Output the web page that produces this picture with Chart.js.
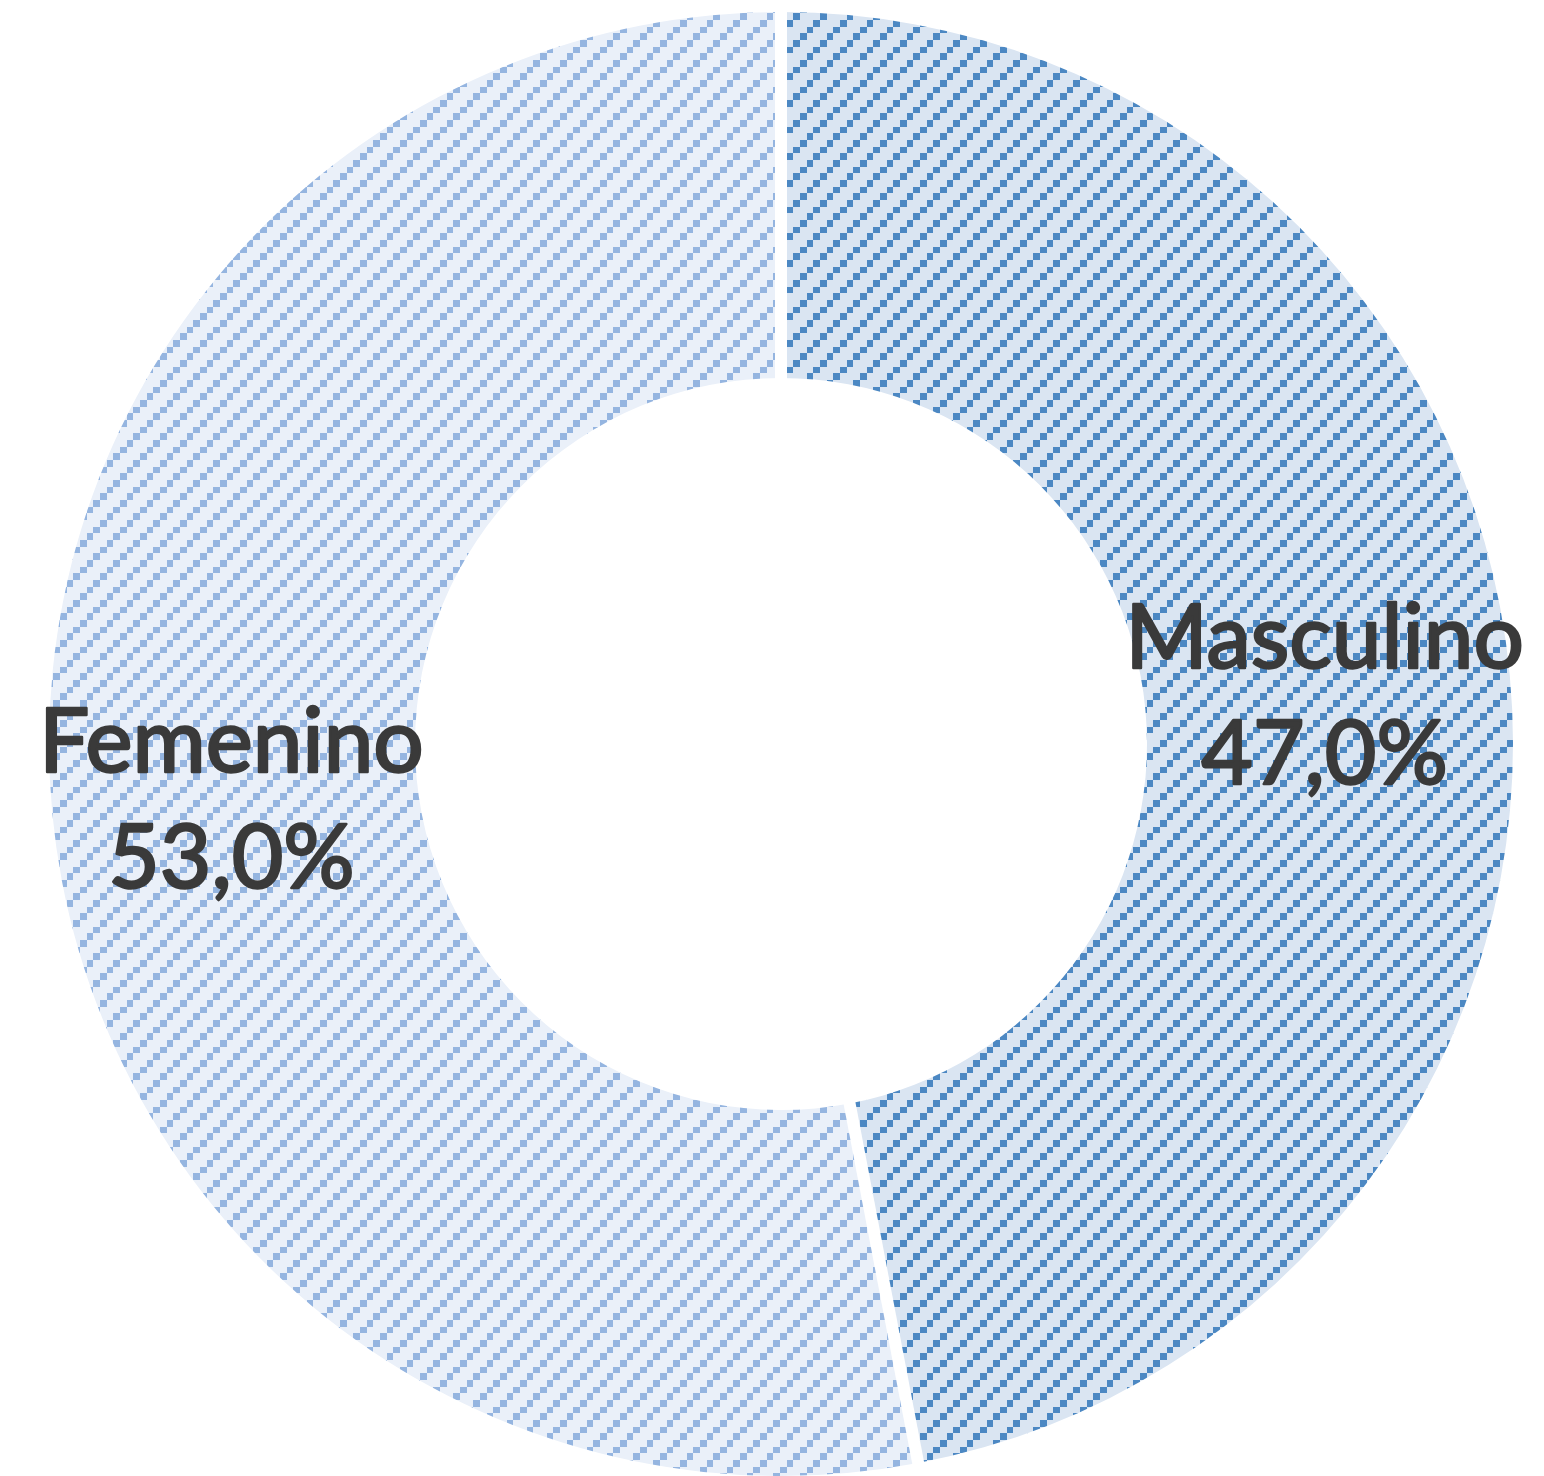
<!DOCTYPE html>
<html>
<head>
<meta charset="utf-8">
<script src="https://cdn.jsdelivr.net/npm/chart.js@4.4.1/dist/chart.umd.min.js"></script>
<style>
    body { margin: 0; background: #fff; }
    #wrap { width: 1544px; height: 1476px; position: relative; }
</style>
</head>
<body>
<div id="wrap"><canvas id="chart"></canvas></div>
<script>
const categories = ['Masculino', 'Femenino']
const shares = [47.0, 53.0]
const baseColors = ['#dae5f2', '#eaf0f9']
const stripeColors = ['#4c88c3', '#95b5e0']

// pixelated "/" hatch, 4 cells per period, ~6.67px cells
function hatch(bg, fg) {
    const tile = document.createElement('canvas')
    tile.width = 80
    tile.height = 80
    const c = tile.getContext('2d')
    c.fillStyle = bg
    c.fillRect(0, 0, 80, 80)
    c.fillStyle = fg
    const edge = i => Math.round(i * 20 / 3)
    for (let r = 0; r < 12; r++) {
        for (let k = 0; k < 12; k++) {
            if ((k + r) % 4 === 1) {
                c.fillRect(edge(k), edge(r), edge(k + 1) - edge(k), edge(r + 1) - edge(r))
            }
        }
    }
    return c.createPattern(tile, 'repeat')
}

const fmt = v => v.toFixed(1).replace('.', ',') + '%'

const gapLines = {
    id: 'gapLines',
    afterDatasetsDraw(chart) {
        const ctx = chart.ctx
        ctx.save()
        ctx.strokeStyle = '#ffffff'
        ctx.lineWidth = 12
        chart.getDatasetMeta(0).data.forEach(arc => {
            const a = arc.startAngle
            ctx.beginPath()
            ctx.moveTo(arc.x + (arc.innerRadius - 3) * Math.cos(a), arc.y + (arc.innerRadius - 3) * Math.sin(a))
            ctx.lineTo(arc.x + (arc.outerRadius + 3) * Math.cos(a), arc.y + (arc.outerRadius + 3) * Math.sin(a))
            ctx.stroke()
        })
        ctx.restore()
    }
}

const arcLabels = {
    id: 'arcLabels',
    afterDraw(chart) {
        const ctx = chart.ctx
        ctx.save()
        ctx.fillStyle = '#3a3a3a'
        ctx.strokeStyle = '#3a3a3a'
        ctx.lineWidth = 2.5
        ctx.lineJoin = 'round'
        ctx.font = '89px Lato'
        ctx.textAlign = 'center'
        ctx.textBaseline = 'alphabetic'
        chart.getDatasetMeta(0).data.forEach((arc, i) => {
            const p = arc.tooltipPosition()
            const lines = [[categories[i], p.y - 24], [fmt(shares[i]), p.y + 92]]
            lines.forEach(([t, y]) => {
                ctx.fillText(t, p.x - 3, y)
                ctx.strokeText(t, p.x - 3, y)
            })
        })
        ctx.restore()
    }
}

const ctx = document.getElementById('chart')
new Chart(ctx, {
    type: 'doughnut',
    data: {
        labels: categories,
        datasets: [{
            data: shares,
            backgroundColor: baseColors.map((b, i) => hatch(b, stripeColors[i])),
            borderWidth: 0
        }]
    },
    options: {
        animation: false,
        responsive: true,
        maintainAspectRatio: false,
        cutout: '50%',
        layout: { padding: { left: 49, right: 31, top: 12, bottom: 0 } },
        plugins: {
            legend: { display: false },
            tooltip: { enabled: false }
        }
    },
    plugins: [gapLines, arcLabels]
})
</script>
</body>
</html>
